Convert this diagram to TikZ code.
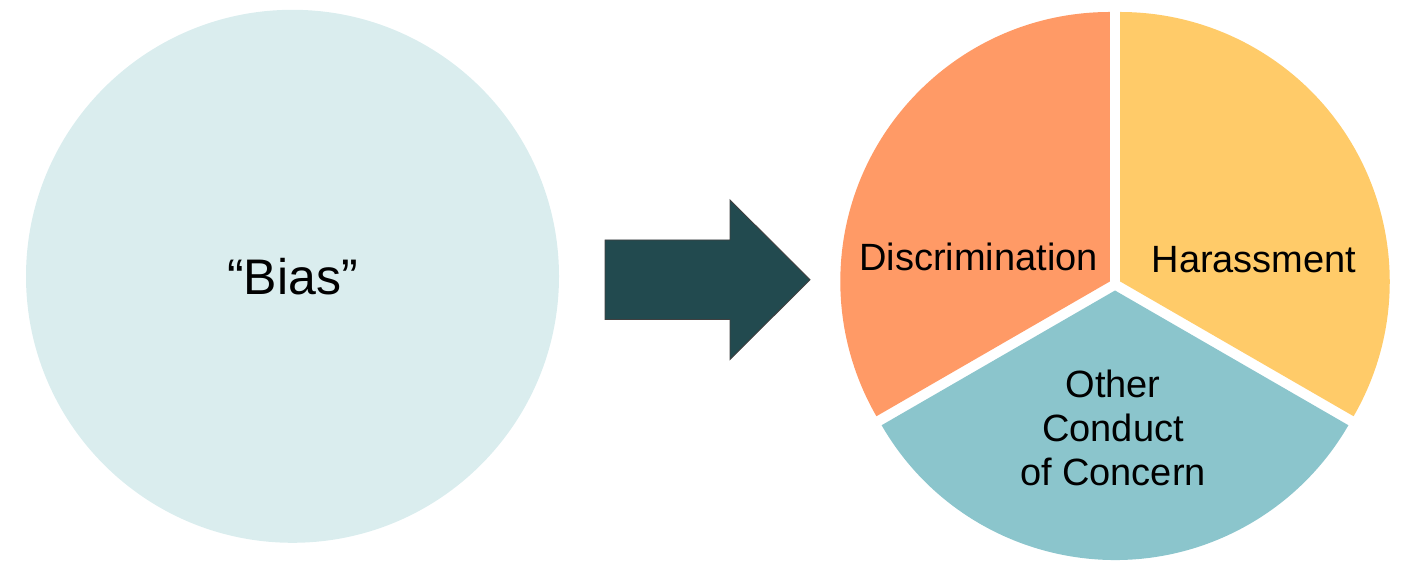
\documentclass[tikz,border=0pt]{standalone}
\usepackage{fontspec}
\setmainfont{Liberation Sans}
\usetikzlibrary{calc}

\definecolor{biasfill}{HTML}{DAEDEE}
\definecolor{discfill}{HTML}{FF9A66}
\definecolor{harfill}{HTML}{FFCB69}
\definecolor{othfill}{HTML}{8BC5CC}
\definecolor{arrowfill}{HTML}{224A4F}

\tikzset{
  label text/.style={font=\fontsize{38}{44}\selectfont, text=black, inner sep=0pt, align=center},
  big text/.style={font=\fontsize{50}{58}\selectfont, text=black, inner sep=0pt},
}

\begin{document}
\begin{tikzpicture}[x=1pt, y=1pt]
  \useasboundingbox (0,0) rectangle (1402,561);

  % source circle
  \node[circle, fill=biasfill, minimum size=533pt, inner sep=0pt] (bias) at (292.5,284.7) {};
  \node[big text] (biaslabel) at (bias.center) {“Bias”};

  % block arrow
  \coordinate (arrowtip) at (810,281.3);
  \filldraw[fill=arrowfill, draw=black!75, line width=0.9pt, line join=miter]
    (605,241.5) -- (730,241.5) -- (730,201.5) -- (arrowtip)
    -- (730,361) -- (730,321) -- (605,321) -- cycle;

  % pie of three exploded slices
  \coordinate (pc) at (1115,276.5);
  \def\pr{269.5pt}
  \fill[discfill] ($(pc)+(150:6)$) -- +(90:269.5) arc[start angle=90, end angle=210, radius=\pr] -- cycle;
  \fill[harfill]  ($(pc)+(30:6)$)  -- +(-30:269.5) arc[start angle=-30, end angle=90, radius=\pr] -- cycle;
  \fill[othfill]  ($(pc)+(270:6)$) -- +(210:269.5) arc[start angle=210, end angle=330, radius=\pr] -- cycle;

  \node[label text] (disc) at (978.5,304) {Discrimination};
  \node[label text] (har) at (1254,301) {Harassment};
  \node[label text] (other) at (1113,133) {Other\\Conduct\\of Concern};
\end{tikzpicture}
\end{document}
